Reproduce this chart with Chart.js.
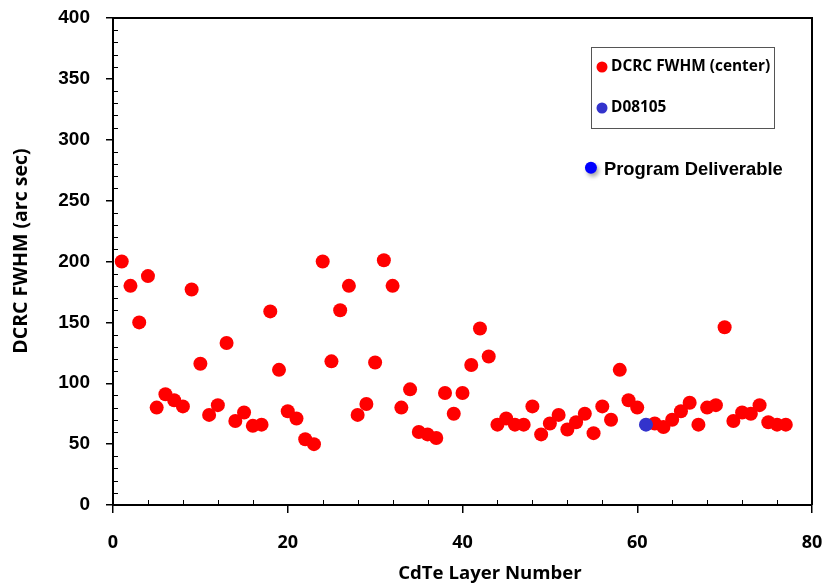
<!DOCTYPE html>
<html>
<head>
<meta charset="utf-8">
<script src="https://cdn.jsdelivr.net/npm/chart.js@4.4.1/dist/chart.umd.min.js"></script>
<style>
  html, body { margin: 0; padding: 0; background: #fff; }
</style>
</head>
<body>
<canvas id="fwhmChart" width="825" height="584"></canvas>
<script>
// layer numbers and DCRC FWHM values (arc sec)
const layerNumbers = [
  1, 2, 3, 4, 5, 6, 7, 8, 9, 10, 11, 12, 13, 14, 15, 16, 17, 18, 19, 20,
  21, 22, 23, 24, 25, 26, 27, 28, 29, 30, 31, 32, 33, 34, 35, 36, 37, 38, 39, 40,
  41, 42, 43, 44, 45, 46, 47, 48, 49, 50, 51, 52, 53, 54, 55, 56, 57, 58, 59, 60,
  62, 63, 64, 65, 66, 67, 68, 69, 70, 71, 72, 73, 74, 75, 76, 77
];
const fwhmValues = [
  200, 180, 150, 188, 80, 91, 86, 81, 177, 116, 74, 82, 133, 69, 76, 65, 66, 159, 111, 77,
  71, 54, 50, 200, 118, 160, 180, 74, 83, 117, 201, 180, 80, 95, 60, 58, 55, 92, 75, 92,
  115, 145, 122, 66, 71, 66, 66, 81, 58, 67, 74, 62, 68, 75, 59, 81, 70, 111, 86, 80,
  67, 64, 70, 77, 84, 66, 80, 82, 146, 69, 76, 75, 82, 68, 66, 66
];
const d08105Layers = [61];
const d08105Values = [66];
const deliverableLayers = [54.7];
const deliverableValues = [277];

const xTickValues = [0, 20, 40, 60, 80];
const yTickValues = [0, 50, 100, 150, 200, 250, 300, 350, 400];

const legendItems = [
  { label: 'DCRC FWHM (center)', color: '#FF0000' },
  { label: 'D08105', color: '#3333CC' }
];

const toPoints = (xs, ys) => xs.map((x, i) => ({ x, y: ys[i] }));

const calibriLike = '"Open Sans", Lato, sans-serif';
const arialLike = '"Liberation Sans", Arial, sans-serif';

// pick a bold font size so the text spans the width seen in the picture
const fitFont = (ctx, text, family, width) => {
  ctx.font = 'bold 20px ' + family;
  const size = 20 * width / ctx.measureText(text).width;
  ctx.font = 'bold ' + size.toFixed(1) + 'px ' + family;
};

const extras = {
  id: 'extras',
  beforeDatasetDraw(chart, args) {
    if (args.index !== 2) return;
    const ctx = chart.ctx;
    ctx.save();
    ctx.shadowColor = 'rgba(0,0,0,0.35)';
    ctx.shadowBlur = 4;
    ctx.shadowOffsetX = 2;
    ctx.shadowOffsetY = 3;
  },
  afterDatasetDraw(chart, args) {
    if (args.index === 2) chart.ctx.restore();
  },
  afterDraw(chart) {
    const ctx = chart.ctx;
    const { left, right, top, bottom } = chart.chartArea;
    const xs = chart.scales.x;
    const ys = chart.scales.y;
    ctx.save();

    // top + right frame
    ctx.strokeStyle = '#000';
    ctx.lineWidth = 2;
    ctx.beginPath();
    ctx.moveTo(left, top);
    ctx.lineTo(right, top);
    ctx.lineTo(right, bottom);
    ctx.stroke();

    // minor ticks inside the plot
    ctx.lineWidth = 1;
    for (let v = 10; v < 400; v += 10) {
      if (v % 50 === 0) continue;
      const y = Math.round(ys.getPixelForValue(v)) + 0.5;
      ctx.beginPath();
      ctx.moveTo(left, y);
      ctx.lineTo(left + 5, y);
      ctx.stroke();
    }
    for (let v = 4; v < 80; v += 4) {
      if (v % 20 === 0) continue;
      const x = Math.round(xs.getPixelForValue(v)) + 0.5;
      ctx.beginPath();
      ctx.moveTo(x, bottom);
      ctx.lineTo(x, bottom - 5);
      ctx.stroke();
    }

    // legend box
    ctx.strokeStyle = '#555';
    ctx.lineWidth = 1;
    ctx.strokeRect(591.5, 47.5, 183, 81);
    ctx.textBaseline = 'middle';
    ctx.textAlign = 'left';
    legendItems.forEach((item, i) => {
      const cy = 67 + i * 41;
      ctx.fillStyle = item.color;
      ctx.beginPath();
      ctx.arc(602, cy, 5.5, 0, Math.PI * 2);
      ctx.fill();
      ctx.fillStyle = '#000';
      fitFont(ctx, legendItems[0].label, calibriLike, 159);
      ctx.fillText(item.label, 611, cy);
    });

    // program deliverable label
    const px = xs.getPixelForValue(deliverableLayers[0]);
    const py = ys.getPixelForValue(deliverableValues[0]);
    fitFont(ctx, 'Program Deliverable', arialLike, 179);
    ctx.fillStyle = '#000';
    ctx.fillText('Program Deliverable', px + 13, py + 2);

    // axis titles
    ctx.textAlign = 'center';
    fitFont(ctx, 'CdTe Layer Number', calibriLike, 184);
    ctx.fillText('CdTe Layer Number', 490, 574);
    ctx.save();
    ctx.translate(21, 251);
    ctx.rotate(-Math.PI / 2);
    fitFont(ctx, 'DCRC FWHM (arc sec)', calibriLike, 205);
    ctx.fillText('DCRC FWHM (arc sec)', 0, 0);
    ctx.restore();

    ctx.restore();
  }
};

new Chart(document.getElementById('fwhmChart'), {
  type: 'scatter',
  data: {
    datasets: [
      {
        label: 'DCRC FWHM (center)',
        data: toPoints(layerNumbers, fwhmValues),
        backgroundColor: '#FF0000',
        borderWidth: 0,
        pointRadius: 7,
        order: 2
      },
      {
        label: 'D08105',
        data: toPoints(d08105Layers, d08105Values),
        backgroundColor: '#3333CC',
        borderWidth: 0,
        pointRadius: 7,
        order: 1
      },
      {
        label: 'Program Deliverable',
        data: toPoints(deliverableLayers, deliverableValues),
        backgroundColor: '#0000FF',
        borderWidth: 0,
        pointRadius: 6,
        order: 0
      }
    ]
  },
  options: {
    responsive: false,
    animation: false,
    events: [],
    layout: { padding: { top: 18, right: 13, left: 0, bottom: 0 } },
    plugins: {
      legend: { display: false },
      tooltip: { enabled: false }
    },
    scales: {
      x: {
        type: 'linear',
        min: 0,
        max: 80,
        afterBuildTicks: (scale) => { scale.ticks = xTickValues.map((value) => ({ value })); },
        afterFit: (scale) => {
          scale.height = 79;
          scale.paddingLeft = 0;
          scale.paddingRight = 0;
        },
        ticks: {
          color: '#000',
          padding: 19,
          font: { family: calibriLike, weight: 'bold', size: 18 }
        },
        grid: { drawOnChartArea: false, tickLength: 8, color: '#000', lineWidth: 1.5 },
        border: { color: '#000', width: 2 }
      },
      y: {
        min: 0,
        max: 400,
        afterBuildTicks: (scale) => { scale.ticks = yTickValues.map((value) => ({ value })); },
        afterFit: (scale) => {
          scale.width = 113;
          scale.paddingTop = 0;
          scale.paddingBottom = 0;
        },
        ticks: {
          color: '#000',
          padding: 16,
          font: { family: arialLike, weight: 'bold', size: 19 }
        },
        grid: { drawOnChartArea: false, tickLength: 7, color: '#000', lineWidth: 1.5 },
        border: { color: '#000', width: 2 }
      }
    }
  },
  plugins: [extras]
});
</script>
</body>
</html>
